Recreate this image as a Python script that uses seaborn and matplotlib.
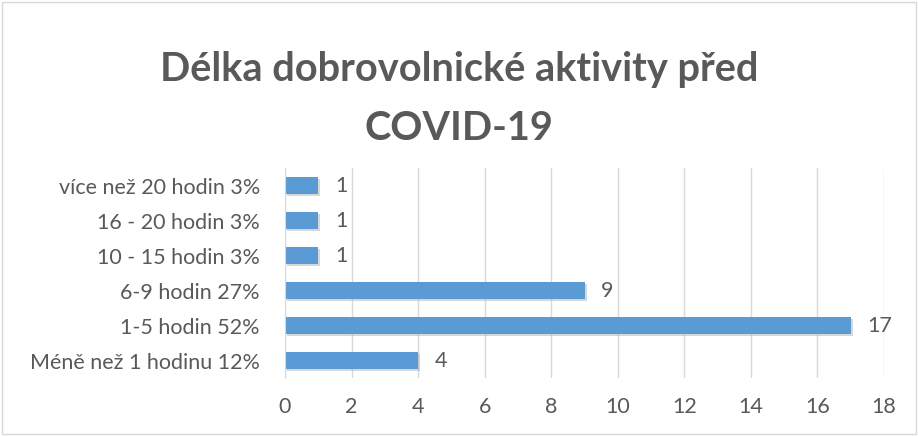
import matplotlib
matplotlib.use("Agg")
import matplotlib.pyplot as plt
import matplotlib.patheffects as pe
import pandas as pd
import seaborn as sns

# data, top to bottom as in the chart
categories = ["více než 20 hodin 3%", "16 - 20 hodin 3%", "10 - 15 hodin 3%",
              "6-9 hodin 27%", "1-5 hodin 52%", "Méně než 1 hodinu 12%"]
counts = [1, 1, 1, 9, 17, 4]
x_ticks = [0, 2, 4, 6, 8, 10, 12, 14, 16, 18]

title_lines = ["Délka dobrovolnické aktivity před", "COVID-19"]

df = pd.DataFrame({"category": categories, "count": counts})

sns.set_style("white")
plt.rcParams['font.family'] = ['Lato', 'DejaVu Sans']
text_col = "#595959"
grid_col = "#D9D9D9"

fig = plt.figure(figsize=(9.18, 4.36), dpi=100)
ax = fig.add_axes([285 / 918, 1 - 378 / 436, 599 / 918, 210 / 436])

sns.barplot(data=df, x="count", y="category", orient="h", color="#5B9BD5",
            saturation=1, width=0.49, ax=ax)
for bar in ax.patches:
    bar.set_linewidth(0)
    bar.set_path_effects([pe.SimplePatchShadow(offset=(1.5, -1.5), shadow_rgbFace="#b0b0b0", alpha=0.5),
                          pe.Normal()])

ax.bar_label(ax.containers[0], padding=12, fontsize=15.5, color=text_col)

ax.set_xlim(0, 18)
ax.set_xticks(x_ticks)
ax.set_ylim(5.5, -0.5)
ax.grid(axis="x", color=grid_col, linewidth=1)
ax.set_axisbelow(True)
for side in ["top", "right", "bottom"]:
    ax.spines[side].set_visible(False)
ax.spines["left"].set_color(grid_col)
ax.tick_params(axis="both", length=0, labelsize=15.5, labelcolor=text_col)
ax.tick_params(axis="x", pad=14)
ax.tick_params(axis="y", pad=18)
ax.set_xlabel("")
ax.set_ylabel("")

for y_px, line in zip([70, 129], title_lines):
    fig.text(0.5, 1 - y_px / 436, line, ha="center", va="center", fontsize=28.6,
             fontweight="bold", color=text_col)

fig.patches.append(plt.Rectangle((2 / 918, 2 / 436), 914 / 918, 432 / 436, transform=fig.transFigure,
                                 fill=False, edgecolor=grid_col, linewidth=1))

fig.savefig("out.png", dpi=100)
